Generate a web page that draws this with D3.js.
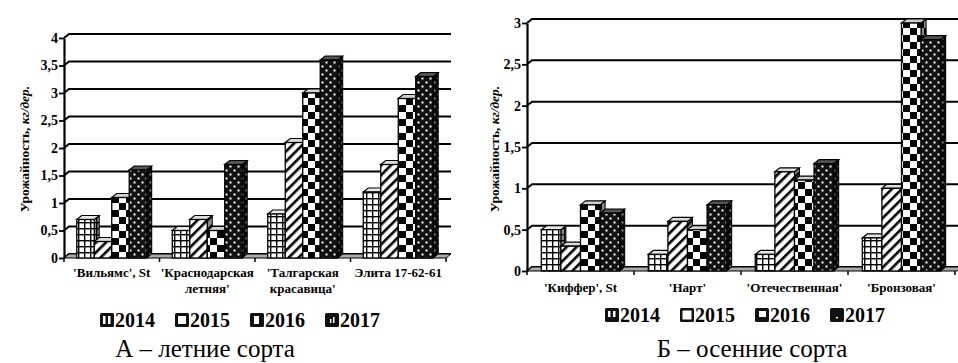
<!DOCTYPE html>
<html>
<head>
<meta charset="utf-8">
<script src="https://cdn.jsdelivr.net/npm/d3@7"></script>
<style>
  body { margin: 0; background: #fff; }
  svg { display: block; }
</style>
</head>
<body>
<svg id="chart" width="958" height="363"></svg>
<script>
// ---------- data ----------
const years = ["2014", "2015", "2016", "2017"];

// А – летние сорта
const summerSorts = ["'Вильямс', St", "'Краснодарская летняя'", "'Талгарская красавица'", "Элита 17-62-61"];
const summerLabels = [["'Вильямс', St"], ["'Краснодарская", "летняя'"], ["'Талгарская", "красавица'"], ["Элита 17-62-61"]];
const summer2014 = [0.7, 0.5, 0.8, 1.2];
const summer2015 = [0.3, 0.7, 2.1, 1.7];
const summer2016 = [1.1, 0.5, 3.0, 2.9];
const summer2017 = [1.6, 1.7, 3.6, 3.3];
const summerTicks = [0, 0.5, 1, 1.5, 2, 2.5, 3, 3.5, 4];

// Б – осенние сорта
const autumnSorts = ["'Киффер', St", "'Нарт'", "'Отечественная'", "'Бронзовая'"];
const autumnLabels = [["'Киффер', St"], ["'Нарт'"], ["'Отечественная'"], ["'Бронзовая'"]];
const autumn2014 = [0.5, 0.2, 0.2, 0.4];
const autumn2015 = [0.3, 0.6, 1.2, 1.0];
const autumn2016 = [0.8, 0.5, 1.1, 3.0];
const autumn2017 = [0.7, 0.8, 1.3, 2.8];
const autumnTicks = [0, 0.5, 1, 1.5, 2, 2.5, 3];

const yTitle = "Урожайность, ";
const yTitleUnit = "кг/дер.";

// ---------- setup ----------
const svg = d3.select("#chart");
const FONT = '"Liberation Serif"';
const fmt = d3.formatLocale({decimal: ",", thousands: " ", grouping: [3], currency: ["", ""]}).format("~g");

const DX = 5, DY = -4;   // 3d depth offset

// patterns
const defs = svg.append("defs");

const pGrid = defs.append("pattern").attr("id", "p2014")
    .attr("patternUnits", "userSpaceOnUse").attr("width", 6).attr("height", 6);
pGrid.append("rect").attr("width", 6).attr("height", 6).attr("fill", "#fff");
pGrid.append("rect").attr("width", 1.4).attr("height", 6).attr("fill", "#000");
pGrid.append("rect").attr("width", 6).attr("height", 1.4).attr("fill", "#000");

const pDiag = defs.append("pattern").attr("id", "p2015")
    .attr("patternUnits", "userSpaceOnUse").attr("width", 7).attr("height", 7)
    .attr("patternTransform", "rotate(45)");
pDiag.append("rect").attr("width", 7).attr("height", 7).attr("fill", "#fff");
pDiag.append("rect").attr("width", 2.6).attr("height", 7).attr("fill", "#000");

const pCheck = defs.append("pattern").attr("id", "p2016")
    .attr("patternUnits", "userSpaceOnUse").attr("width", 14).attr("height", 14);
pCheck.append("rect").attr("width", 14).attr("height", 14).attr("fill", "#fff");
pCheck.append("rect").attr("width", 7).attr("height", 7).attr("fill", "#000");
pCheck.append("rect").attr("x", 7).attr("y", 7).attr("width", 7).attr("height", 7).attr("fill", "#000");

const pDots = defs.append("pattern").attr("id", "p2017")
    .attr("patternUnits", "userSpaceOnUse").attr("width", 8).attr("height", 8);
pDots.append("rect").attr("width", 8).attr("height", 8).attr("fill", "#111");
pDots.append("rect").attr("x", 1.5).attr("y", 1.5).attr("width", 2).attr("height", 2).attr("fill", "#fff");
pDots.append("rect").attr("x", 5.5).attr("y", 5.5).attr("width", 2).attr("height", 2).attr("fill", "#fff");

const topFill = ["#e8e8e8", "#dcdcdc", "#d0d0d0", "#555"];

// legend swatch inner marks (small white shapes on black squares)
const swatchMarksA = [
  [[3, 3, 2.5, 8], [8, 3, 2.5, 8]],
  [[3, 3, 8, 8]],
  [[4, 3, 5, 8]],
  [[5, 6, 1.5, 4], [8, 4, 1.5, 6]]
];
const swatchMarksB = [
  [[3, 3, 2.5, 6], [8, 3, 2.5, 6]],
  [[2.5, 2.5, 9, 9]],
  [[4, 3, 7, 6]],
  [[6, 9, 2, 1.5]]
];

function drawChart(cfg) {
  const g = svg.append("g").attr("font-family", FONT);

  const x = d3.scaleBand().domain(cfg.sorts).range([cfg.x0, cfg.x1]).padding(0);
  const xi = d3.scaleBand().domain(years).range([0, x.bandwidth()]).paddingInner(0).paddingOuter(0.73);
  const y = d3.scaleLinear().domain([0, cfg.yMax]).range([cfg.y0, cfg.yTop]);

  // gridlines on side + back wall
  g.append("g").selectAll("path").data(cfg.ticks).join("path")
      .attr("d", t => `M${cfg.x0},${y(t)}L${cfg.x0 + DX},${y(t) + DY}L${cfg.gridEnd},${y(t) + DY}`)
      .attr("fill", "none").attr("stroke", "#000").attr("stroke-width", 2);

  // floor
  g.append("path")
      .attr("d", `M${cfg.x0},${y(0)}L${cfg.x0 + DX},${y(0) + DY}L${cfg.gridEnd},${y(0) + DY}L${cfg.gridEnd - DX},${y(0)}Z`)
      .attr("fill", "#aaa").attr("stroke", "#000").attr("stroke-width", 1);

  // bars
  const rows = [];
  cfg.sorts.forEach((s, i) => {
    cfg.series.forEach((vals, j) => rows.push({sort: s, year: years[j], j: j, v: vals[i]}));
  });

  const bw = xi.bandwidth();
  const bars = g.append("g").selectAll("g").data(rows).join("g");
  bars.each(function(d) {
    const bg = d3.select(this);
    const bx = x(d.sort) + xi(d.year);
    const yv = y(d.v), yb = y(0);
    const side = `M${bx + bw},${yv}L${bx + bw + DX},${yv + DY}L${bx + bw + DX},${yb + DY}L${bx + bw},${yb}Z`;
    // side face
    bg.append("path").attr("d", side)
        .attr("fill", `url(#p${d.year})`).attr("stroke", "#000").attr("stroke-width", 1);
    bg.append("path").attr("d", side).attr("fill", "rgba(0,0,0,0.45)");
    // top face
    bg.append("path")
        .attr("d", `M${bx},${yv}L${bx + DX},${yv + DY}L${bx + bw + DX},${yv + DY}L${bx + bw},${yv}Z`)
        .attr("fill", topFill[d.j]).attr("stroke", "#000").attr("stroke-width", 1.2);
    // front face
    bg.append("rect")
        .attr("x", bx).attr("y", yv).attr("width", bw).attr("height", yb - yv)
        .attr("fill", `url(#p${d.year})`).attr("stroke", "#000").attr("stroke-width", 1.3);
  });

  // y axis
  const ax = g.append("g")
      .attr("transform", `translate(${cfg.x0},0)`)
      .call(d3.axisLeft(y).tickValues(cfg.ticks).tickSize(5).tickSizeOuter(0).tickPadding(1).tickFormat(fmt))
      .attr("font-family", FONT);
  ax.select(".domain").attr("stroke-width", 2.2);
  ax.selectAll(".tick line").attr("stroke-width", 1.8);
  ax.selectAll("text").attr("font-family", FONT).attr("font-size", 14)
      .attr("font-weight", "bold").attr("fill", "#000");

  // category ticks
  const edges = cfg.sorts.map(s => x(s)).concat([cfg.x1]);
  g.append("g").selectAll("line").data(edges).join("line")
      .attr("x1", d => d).attr("x2", d => d)
      .attr("y1", y(0)).attr("y2", y(0) + 4)
      .attr("stroke", "#000").attr("stroke-width", 1.5);

  // category labels
  const lbl = g.append("g").selectAll("text").data(cfg.sorts).join("text")
      .attr("x", s => x(s) + x.bandwidth() / 2)
      .attr("y", cfg.labelY)
      .attr("text-anchor", "middle")
      .attr("font-family", FONT)
      .attr("font-size", 13).attr("font-weight", "bold");
  lbl.each(function(s, i) {
    d3.select(this).selectAll("tspan").data(cfg.labels[i]).join("tspan")
        .attr("x", x(s) + x.bandwidth() / 2)
        .attr("dy", (d, k) => k === 0 ? 0 : 16)
        .text(d => d);
  });

  // y title
  const yt = g.append("text")
      .attr("transform", `translate(${cfg.titleX},${cfg.titleY}) rotate(-90)`)
      .attr("text-anchor", "middle")
      .attr("font-family", FONT)
      .attr("font-size", 13.5).attr("font-weight", "bold");
  yt.append("tspan").text(yTitle);
  yt.append("tspan").attr("font-style", "italic").text(yTitleUnit);

  // legend
  const lg = g.append("g").selectAll("g").data(years).join("g")
      .attr("transform", (d, i) => `translate(${cfg.legendX + i * 75},${cfg.legendY})`);
  lg.append("rect").attr("x", 0).attr("y", -14).attr("width", 14).attr("height", 14)
      .attr("rx", 1.5).attr("fill", "#111");
  lg.each(function(d, i) {
    d3.select(this).selectAll("rect.m").data(cfg.swatchMarks[i]).join("rect")
        .attr("class", "m")
        .attr("x", m => m[0]).attr("y", m => m[1] - 14)
        .attr("width", m => m[2]).attr("height", m => m[3])
        .attr("fill", "#fff");
  });
  lg.append("text").attr("x", 15).attr("y", 0)
      .attr("font-family", FONT)
      .attr("font-size", 20).attr("font-weight", "bold").text(d => d);

  // caption
  g.append("text")
      .attr("x", cfg.captionX).attr("y", 357)
      .attr("text-anchor", "middle")
      .attr("font-family", FONT)
      .attr("font-size", 25)
      .text(cfg.caption);
}

drawChart({
  sorts: summerSorts, labels: summerLabels,
  series: [summer2014, summer2015, summer2016, summer2017],
  ticks: summerTicks, yMax: 4,
  x0: 64, x1: 446, gridEnd: 451, y0: 258, yTop: 38,
  labelY: 277, titleX: 29, titleY: 149,
  legendX: 100, legendY: 327, swatchMarks: swatchMarksA,
  captionX: 205, caption: "А – летние сорта"
});

drawChart({
  sorts: autumnSorts, labels: autumnLabels,
  series: [autumn2014, autumn2015, autumn2016, autumn2017],
  ticks: autumnTicks, yMax: 3,
  x0: 527, x1: 955, gridEnd: 962, y0: 271, yTop: 23,
  labelY: 292, titleX: 499, titleY: 149,
  legendX: 605, legendY: 322, swatchMarks: swatchMarksB,
  captionX: 752, caption: "Б – осенние сорта"
});
</script>
</body>
</html>
